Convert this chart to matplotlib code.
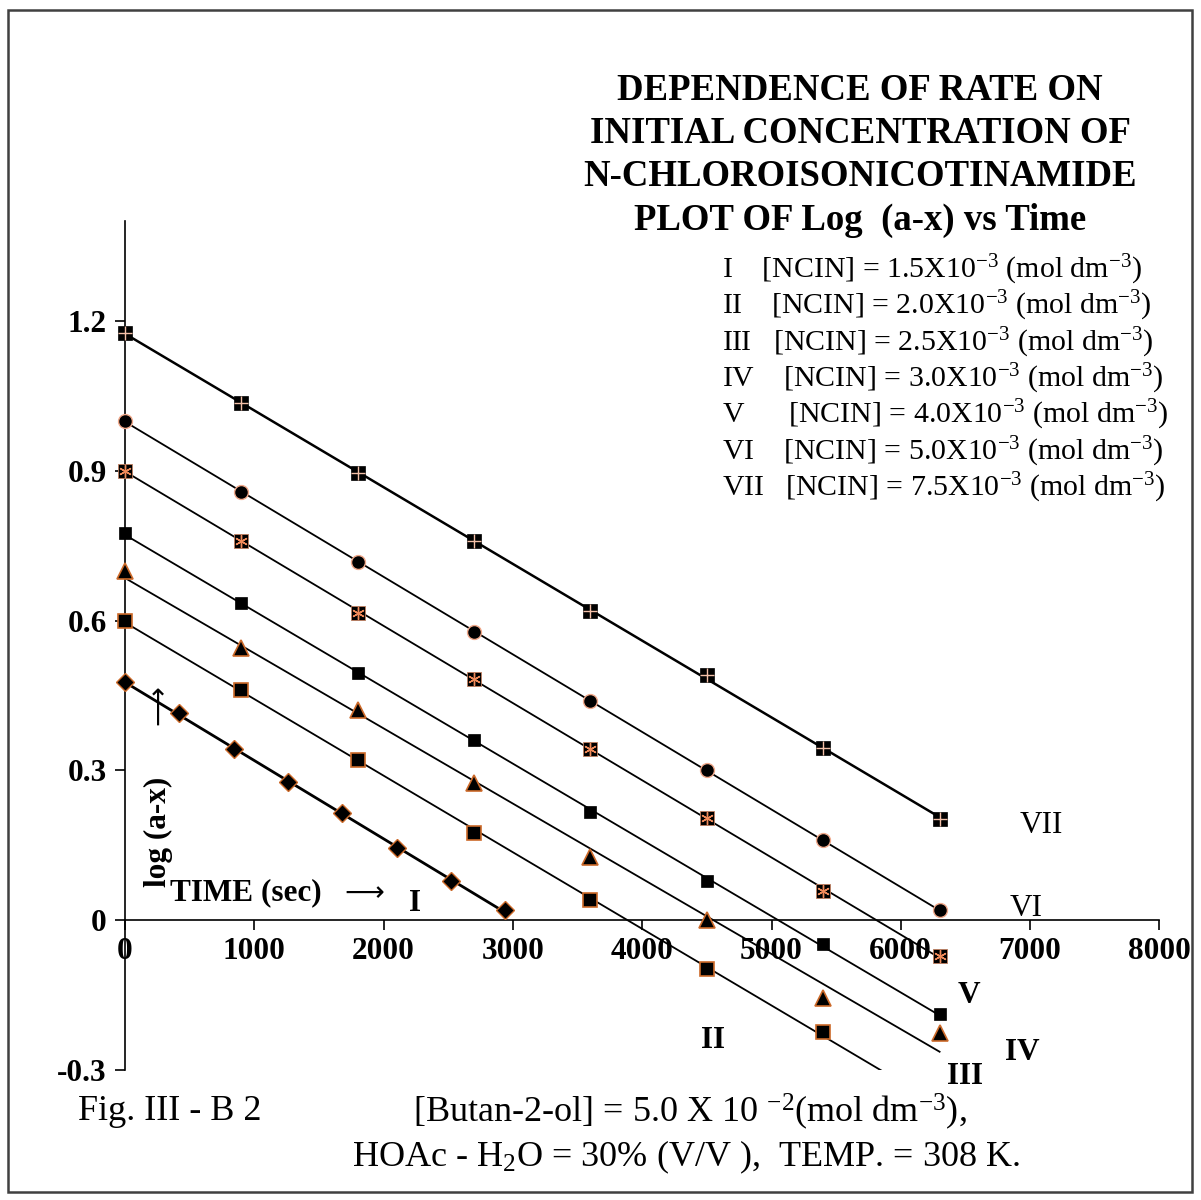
import numpy as np
import matplotlib
matplotlib.use("Agg")
import matplotlib.pyplot as plt
from matplotlib.patches import Rectangle

plt.rcParams['font.family'] = ['Liberation Serif', 'DejaVu Serif']
plt.rcParams['mathtext.fontset'] = 'custom'
plt.rcParams['mathtext.rm'] = 'Liberation Serif'
plt.rcParams['mathtext.it'] = 'Liberation Serif:italic'
plt.rcParams['mathtext.bf'] = 'Liberation Serif:bold'

# ---- data ----
time_I = [0, 420, 840, 1260, 1680, 2100, 2520, 2940]
log_I = [0.477, 0.414, 0.342, 0.277, 0.215, 0.144, 0.079, 0.020]

time_II = [0, 900, 1800, 2700, 3600, 4500, 5400]
log_II = [0.600, 0.460, 0.320, 0.175, 0.040, -0.098, -0.223]

time_std = [0, 900, 1800, 2700, 3600, 4500, 5400, 6300]
log_III = [0.700, 0.545, 0.420, 0.275, 0.127, 0.000, -0.155, -0.225]
log_IV = [0.775, 0.635, 0.495, 0.360, 0.216, 0.078, -0.047, -0.188]
log_V = [0.900, 0.760, 0.616, 0.483, 0.342, 0.204, 0.059, -0.072]
log_VI = [1.000, 0.858, 0.717, 0.578, 0.438, 0.300, 0.160, 0.020]
log_VII = [1.175, 1.035, 0.895, 0.760, 0.620, 0.490, 0.345, 0.202]

legend_lines = [
    r"I    [NCIN] = 1.5X10$^{-3}$ (mol dm$^{-3}$)",
    r"II    [NCIN] = 2.0X10$^{-3}$ (mol dm$^{-3}$)",
    r"III   [NCIN] = 2.5X10$^{-3}$ (mol dm$^{-3}$)",
    r"IV    [NCIN] = 3.0X10$^{-3}$ (mol dm$^{-3}$)",
    r"V      [NCIN] = 4.0X10$^{-3}$ (mol dm$^{-3}$)",
    r"VI    [NCIN] = 5.0X10$^{-3}$ (mol dm$^{-3}$)",
    r"VII   [NCIN] = 7.5X10$^{-3}$ (mol dm$^{-3}$)",
]
xticks = [0, 1000, 2000, 3000, 4000, 5000, 6000, 7000, 8000]
yticks = [-0.3, 0, 0.3, 0.6, 0.9, 1.2]
ytick_labels = ["-0.3", "0", "0.3", "0.6", "0.9", "1.2"]

ORANGE = '#cc6a2a'
SALMON = '#f0a88a'

fig = plt.figure(figsize=(12.01, 12.0), dpi=100)
fig.patches.append(Rectangle((8/1201, 8/1200), 1184/1201, 1182/1200, transform=fig.transFigure,
                             fill=False, edgecolor='#404040', linewidth=1.8))
ax = fig.add_axes([125/1201, 1 - 1070/1200, (1159.4 - 125)/1201, (1070 - 221)/1200])
ax.set_xlim(0, 8000)
ax.set_ylim(-0.3, 1.4)

def trend(t, y, tend, lw=1.3):
    p = np.polyfit(t, y, 1)
    xs = np.array([0, tend])
    ax.plot(xs, np.polyval(p, xs), color='black', linewidth=lw, zorder=2)

trend(time_I, log_I, 2940, lw=2.0)
trend(time_II, log_II, 6300)
trend(time_std, log_III, 6300)
trend(time_std, log_IV, 6300)
trend(time_std, log_V, 6300)
trend(time_std, log_VI, 6300)
trend(time_std, log_VII, 6300, lw=1.8)

mk = dict(linestyle='none', clip_on=False)
ax.plot(time_I, log_I, marker='D', markersize=9, markerfacecolor='black',
        markeredgecolor=ORANGE, markeredgewidth=1.0, zorder=3, **mk)
ax.plot(time_II, log_II, marker='s', markersize=10, markerfacecolor='black',
        markeredgecolor=ORANGE, markeredgewidth=1.2, zorder=3, **mk)
ax.plot(time_std, log_III, marker='^', markersize=11, markerfacecolor='black',
        markeredgecolor=ORANGE, markeredgewidth=1.2, zorder=3, **mk)
ax.plot(time_std, log_IV, marker='s', markersize=8, markerfacecolor='black',
        markeredgecolor='black', markeredgewidth=0.5, zorder=3, **mk)
ax.plot(time_std, log_V, marker='s', markersize=9.5, markerfacecolor='black',
        markeredgecolor='#c08060', markeredgewidth=0.6, zorder=3, **mk)
ax.plot(time_std, log_V, marker=(6, 2, 0), markersize=9, markerfacecolor='none',
        markeredgecolor='#f08a5a', markeredgewidth=1.0, zorder=4, **mk)
ax.plot(time_std, log_VI, marker='o', markersize=10, markerfacecolor='black',
        markeredgecolor=SALMON, markeredgewidth=1.0, zorder=3, **mk)
ax.plot(time_std, log_VII, marker='s', markersize=10, markerfacecolor='black',
        markeredgecolor='black', markeredgewidth=0.5, zorder=3, **mk)
ax.plot(time_std, log_VII, marker='+', markersize=10, markerfacecolor='none',
        markeredgecolor='#f4c0a8', markeredgewidth=1.0, zorder=4, **mk)

# axes styling
for s in ['top', 'right']:
    ax.spines[s].set_visible(False)
ax.spines['bottom'].set_position(('data', 0))
ax.spines['bottom'].set_linewidth(1.2)
ax.spines['left'].set_linewidth(1.2)
ax.set_xticks(xticks)
ax.set_xticklabels([str(v) for v in xticks], fontsize=22.5, fontweight='bold')
ax.set_yticks(yticks)
ax.set_yticklabels(ytick_labels, fontsize=22.5, fontweight='bold')
ax.tick_params(axis='x', direction='out', length=7, width=1.2, pad=5)
ax.tick_params(axis='y', direction='out', length=7, width=1.2, pad=6)

# in-plot labels
FS = 22.5
ax.text(255, 0.176, "log (a-x)", rotation=90, ha='center', va='center', fontsize=FS, fontweight='bold')
ax.text(255, 0.43, "\u27f6", rotation=90, ha='center', va='center', fontsize=20,
        family=['DejaVu Sans'])
ax.text(345, 0.054, "TIME (sec)", ha='left', va='center', fontsize=FS, fontweight='bold')
ax.text(1700, 0.054, "\u27f6", ha='left', va='center', fontsize=20,
        family=['DejaVu Sans'])
ax.text(2243, 0.034, "I", ha='center', va='center', fontsize=FS, fontweight='bold')
ax.text(4550, -0.24, "II", ha='center', va='center', fontsize=FS, fontweight='bold')
ax.text(6500, -0.314, "III", ha='center', va='center', fontsize=FS, fontweight='bold', clip_on=False)
ax.text(6940, -0.264, "IV", ha='center', va='center', fontsize=FS, fontweight='bold')
ax.text(6530, -0.15, "V", ha='center', va='center', fontsize=FS, fontweight='bold')
ax.text(6970, 0.024, "VI", ha='center', va='center', fontsize=FS)
ax.text(7090, 0.19, "VII", ha='center', va='center', fontsize=FS)

# title
title_lines = ["DEPENDENCE OF RATE ON", "INITIAL CONCENTRATION OF",
               "N-CHLOROISONICOTINAMIDE", "PLOT OF Log  (a-x) vs Time"]
for i, line in enumerate(title_lines):
    fig.text(860/1201, 1 - (90 + 43.5*i)/1200, line, ha='center', va='center',
             fontsize=26.5, fontweight='bold')

# legend text
for i, line in enumerate(legend_lines):
    fig.text(722/1201, 1 - (270 + 36.3*i)/1200, line, ha='left', va='center', fontsize=21.5)

# bottom texts
fig.text(78/1201, 1 - 1112/1200, "Fig. III - B 2", ha='left', va='center', fontsize=26)
fig.text(413/1201, 1 - 1112/1200, r"[Butan-2-ol] = 5.0 X 10 $^{-2}$(mol dm$^{-3}$),",
         ha='left', va='center', fontsize=26)
fig.text(352/1201, 1 - 1157/1200, r"HOAc - H$_2$O = 30% (V/V ),  TEMP. = 308 K.",
         ha='left', va='center', fontsize=26)

fig.savefig("out.png", dpi=100)
